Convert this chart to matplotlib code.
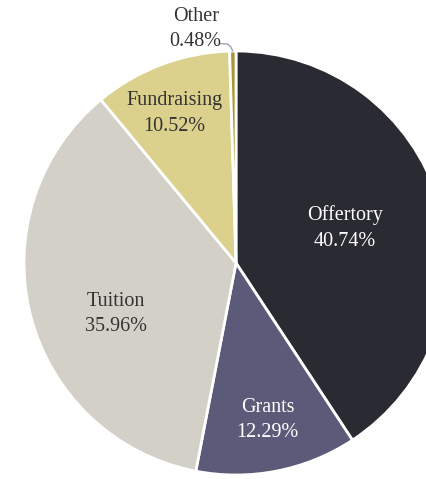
import matplotlib
matplotlib.use("Agg")
import matplotlib.pyplot as plt
import numpy as np

categories = ["Offertory", "Grants", "Tuition", "Fundraising", "Other"]
values = [40.74, 12.29, 35.96, 10.52, 0.48]
colors = ["#2a2a33", "#5b5a78", "#d3d0c8", "#dbd18d", "#ad9434"]
text_colors = ["white", "white", "#333333", "#333333", "#333333"]
label_pos = [(0.515, 0.165), (0.15, -0.74), (-0.565, -0.24), (-0.29, 0.705)]

W, H = 426, 479
cx, cy, R = 236, 263, 212

fig = plt.figure(figsize=(W / 100, H / 100), dpi=100)
ax = fig.add_axes([0, 0, 1, 1])
ax.pie(values, colors=colors, startangle=90, counterclock=False, radius=1,
       wedgeprops=dict(edgecolor="white", linewidth=2))
ax.set_xlim(-cx / R, (W - cx) / R)
ax.set_ylim(-(H - cy) / R, cy / R)
ax.set_aspect("equal")
ax.axis("off")

font = dict(family=["Liberation Serif", "DejaVu Serif"], fontsize=14.5)
for name, v, (x, y), tc in zip(categories[:4], values[:4], label_pos, text_colors[:4]):
    ax.text(x, y, f"{name}\n{v:.2f}%", ha="center", va="center", color=tc,
            linespacing=1.45, **font)

# Other: outside label with leader line
ang = np.deg2rad(90 + values[4] * 3.6 / 2)
x0, y0 = np.cos(ang) * 1.0, np.sin(ang) * 1.0
ax.plot([x0, x0 - 0.01, x0 - 0.025, x0 - 0.06], [y0, y0 + 0.02, y0 + 0.033, y0 + 0.035],
        color="#9aa3b5", lw=1, solid_capstyle="round")
ax.text(-0.19, 1.105, f"{categories[4]}\n{values[4]:.2f}%", ha="center", va="center",
        color=text_colors[4], linespacing=1.45, **font)

fig.savefig("out.png", dpi=100, facecolor="white")
